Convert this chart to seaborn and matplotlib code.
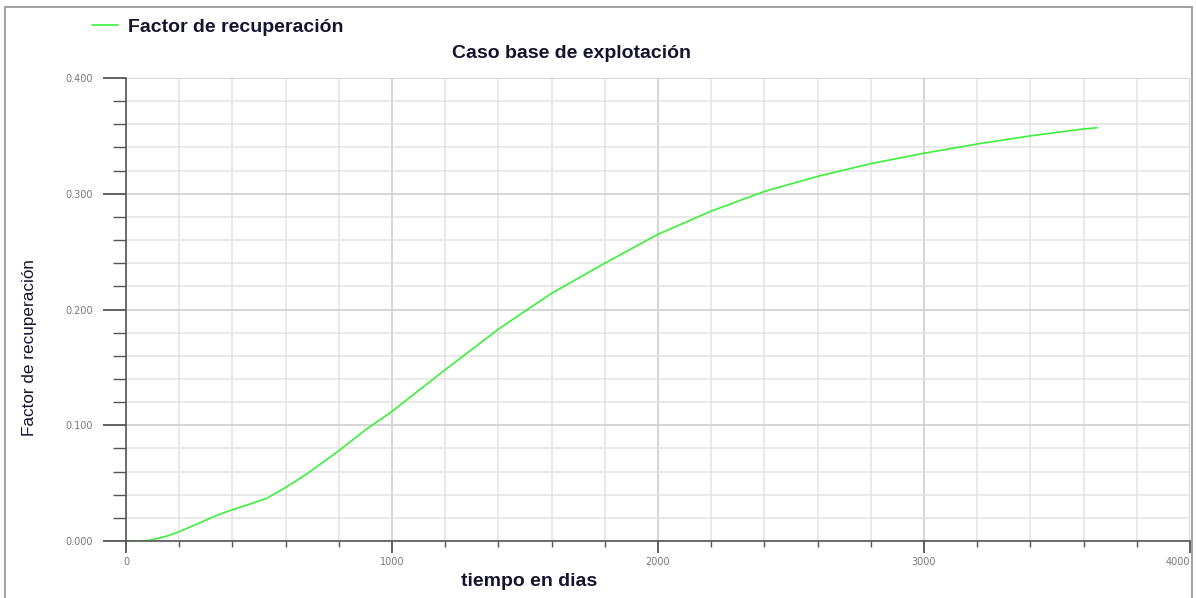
import matplotlib
matplotlib.use("Agg")
import matplotlib.pyplot as plt
from matplotlib.patches import Rectangle
from matplotlib.ticker import MultipleLocator
from matplotlib.lines import Line2D
import seaborn as sns
import pandas as pd

# Recovery factor over production time, base exploitation case
dias = [0, 50, 90, 150, 200, 290, 350, 400, 480, 530, 600, 680, 800, 900,
        1000, 1100, 1200, 1400, 1470, 1600, 1800, 2000, 2200, 2400, 2600,
        2800, 3000, 3200, 3400, 3600, 3650]
factor = [0.0, 0.0, 0.0006, 0.004, 0.008, 0.017, 0.023, 0.027, 0.033, 0.037,
          0.0462, 0.058, 0.078, 0.096, 0.112, 0.130, 0.148, 0.183, 0.194,
          0.214, 0.240, 0.265, 0.285, 0.302, 0.315, 0.326, 0.335, 0.343,
          0.350, 0.356, 0.357]

x_ticks = [0, 1000, 2000, 3000, 4000]
x_tick_labels = ["0", "1000", "2000", "3000", "4000"]
y_ticks = [0.0, 0.1, 0.2, 0.3, 0.4]
y_tick_labels = ["0.000", "0.100", "0.200", "0.300", "0.400"]

titulo = "Caso base de explotación"
serie = "Factor de recuperación"
eje_x = "tiempo en dias"
eje_y = "Factor de recuperación"

df = pd.DataFrame({"dias": dias, "factor": factor})

sns.set_style("white")
plt.rcParams["font.family"] = ["Liberation Sans", "DejaVu Sans"]

W, H = 1196, 598
fig = plt.figure(figsize=(W / 100, H / 100), dpi=100)
ax = fig.add_axes([126 / W, 57 / H, (1190 - 126) / W, (541 - 78) / H])

verde = "#3cf03c"
sns.lineplot(data=df, x="dias", y="factor", ax=ax, color=verde, linewidth=1.2)

ax.set_xlim(0, 4000)
ax.set_ylim(0, 0.4)

ax.xaxis.set_minor_locator(MultipleLocator(200))
ax.yaxis.set_minor_locator(MultipleLocator(0.02))

ax.grid(which="minor", color="#e3e3e3", linewidth=1.1)
ax.grid(which="major", color="#d2d2d2", linewidth=1.3)
ax.set_axisbelow(True)

for s in ["top", "right"]:
    ax.spines[s].set_visible(False)
for s in ["left", "bottom"]:
    ax.spines[s].set_color("#555555")
    ax.spines[s].set_linewidth(1.2)

ax.tick_params(which="both", left=True, bottom=True, top=False, right=False)
ax.tick_params(axis="y", which="major", length=16.5, width=1.3, color="#555555",
               pad=7, direction="out")
ax.tick_params(axis="y", which="minor", length=9.5, width=1.0, color="#555555",
               direction="out")
ax.tick_params(axis="x", which="major", length=8.5, width=1.3, color="#555555",
               pad=3, direction="out")
ax.tick_params(axis="x", which="minor", length=4.5, width=1.0, color="#555555",
               direction="out")

tick_style = dict(fontfamily="DejaVu Sans", fontsize=7, color="#777777")
ax.set_xticks(x_ticks)
xlabs = ax.set_xticklabels(x_tick_labels, **tick_style)
ax.set_yticks(y_ticks)
ax.set_yticklabels(y_tick_labels, **tick_style)
# keep the last x label inside the frame
xlabs[-1].set_horizontalalignment("right")

ax.set_xlabel("")
ax.set_ylabel("")

texto = "#14142e"
fig.text(571 / W, 1 - 53 / H, titulo, ha="center", va="center",
         fontsize=14, fontweight="bold", color=texto)
fig.text(529 / W, 1 - 582 / H, eje_x, ha="center", va="center",
         fontsize=14, fontweight="bold", color=texto)
fig.text(30 / W, 1 - 348 / H, eje_y, ha="center", va="center", rotation=90,
         fontsize=12.3, color=texto,
         family=["Liberation Sans Narrow", "Liberation Sans", "DejaVu Sans"])

# legend entry at the top left
fig.add_artist(Line2D([92 / W, 118 / W], [1 - 25 / H, 1 - 25 / H],
                      color=verde, linewidth=1.2, transform=fig.transFigure))
fig.text(128 / W, 1 - 27 / H, serie, ha="left", va="center",
         fontsize=14, fontweight="bold", color=texto)

# outer frame
fig.add_artist(Rectangle((5 / W, -0.01), (1192 - 5) / W, 1 - 7 / H + 0.01,
                         transform=fig.transFigure, fill=False,
                         edgecolor="#9a9a9a", linewidth=1.3))

fig.savefig("out.png", dpi=100)
